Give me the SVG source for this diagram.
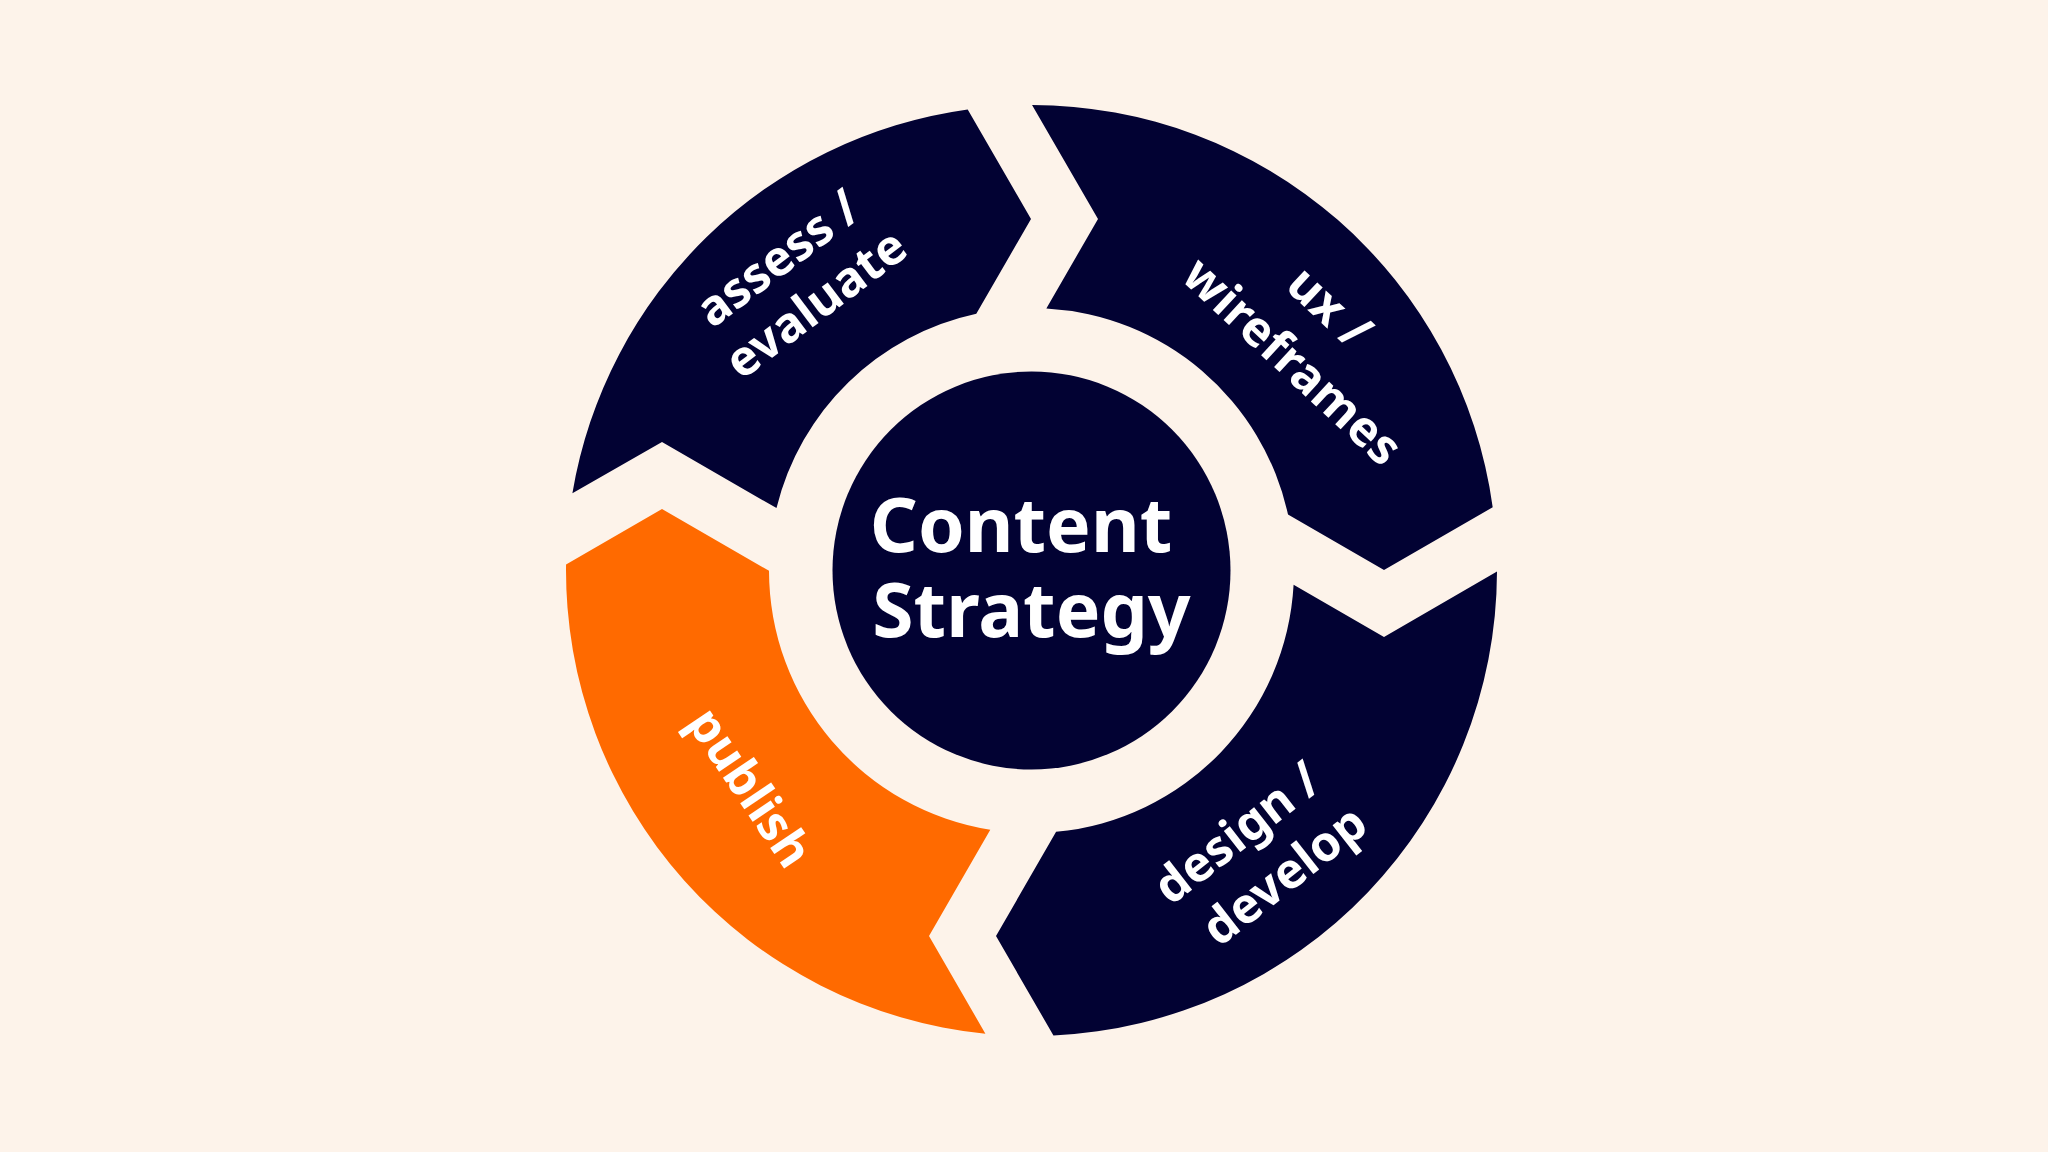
<svg xmlns="http://www.w3.org/2000/svg" width="2048" height="1152" viewBox="0 0 2048 1152">
<style>
.navy{fill:#020233}
.orange{fill:#ff6a00}
.lbl{font-family:"Noto Sans","Liberation Sans",sans-serif;font-weight:700;font-size:49px;fill:#ffffff;text-anchor:middle}
.title{font-family:"Noto Sans","Liberation Sans",sans-serif;font-weight:700;font-size:75px;fill:#ffffff;text-anchor:middle}
</style>
<rect width="2048" height="1152" fill="#fdf3ea"/>
<g id="assess-evaluate">
<path class="navy" d="M572.4,493.25 A465.5,465.5 0 0 1 967.7,109.4 L1031,219 L976.3,313.8 A262.5,262.5 0 0 0 776.5,508.1 L662,442 Z"/>
<g transform="translate(807,294.5) rotate(-37)">
<text class="lbl" x="-1.5" y="-29.5">assess /</text>
<text class="lbl" x="1.5" y="29.5">evaluate</text>
</g>
</g>
<g id="ux-wireframes">
<path class="navy" d="M1032.05,105 A465.5,465.5 0 0 1 1492.7,507.25 L1384,570 L1288,514.6 A262.5,262.5 0 0 0 1046.35,308.4 L1098,219 Z"/>
<g transform="translate(1299.4,346.5) rotate(43)">
<text class="lbl" x="-5" y="-32.3">ux /</text>
<text class="lbl" x="5" y="32.3">wireframes</text>
</g>
</g>
<g id="design-develop">
<path class="navy" d="M1497,571.6 A465.5,465.5 0 0 1 1053.45,1035.5 L996,936 L1056.1,831.85 A262.5,262.5 0 0 0 1293.6,584.8 L1384,637 Z"/>
<g transform="translate(1271.1,867.5) rotate(-38)">
<text class="lbl" x="-5.5" y="-31.2">design /</text>
<text class="lbl" x="5.5" y="31.2">develop</text>
</g>
</g>
<g id="publish">
<path class="orange" d="M985.4,1033.7 A465.5,465.5 0 0 1 566.05,564.4 L662,509 L769,570.8 A262.5,262.5 0 0 0 990.3,829.77 L929,936 Z"/>
<g transform="translate(736,797) rotate(56)">
<text class="lbl" x="0" y="0">publish</text>
</g>
</g>
<g id="content-strategy">
<circle class="navy" cx="1031.5" cy="570.5" r="199"/>
<text class="title" x="1021" y="552">Content</text>
<text class="title" x="1031.5" y="637">Strategy</text>
</g>
</svg>
